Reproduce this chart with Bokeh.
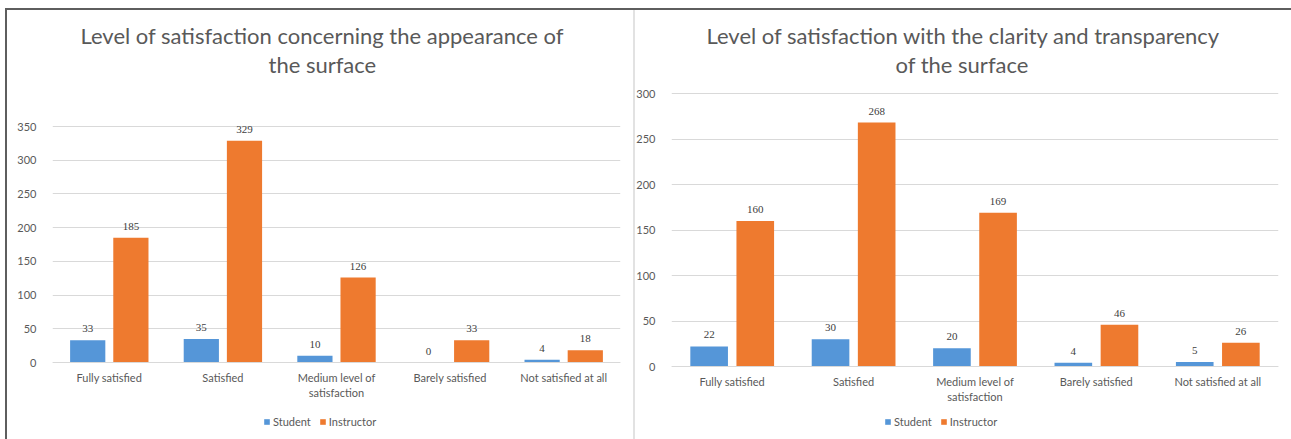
from bokeh.plotting import figure
from bokeh.models import (ColumnDataSource, FactorRange, FixedTicker, Legend,
                          LegendItem, LabelSet, Range1d, Title)
from bokeh.transform import dodge
from bokeh.layouts import row
from bokeh.embed import file_html
from bokeh.resources import INLINE

# Survey answers
categories = ["Fully satisfied", "Satisfied", "Medium level of\nsatisfaction",
              "Barely satisfied", "Not satisfied at all"]
series_names = ["Student", "Instructor"]

appearance_student = [33, 35, 10, 0, 4]
appearance_instructor = [185, 329, 126, 33, 18]
appearance_ticks = [0, 50, 100, 150, 200, 250, 300, 350]

clarity_student = [22, 30, 20, 4, 5]
clarity_instructor = [160, 268, 169, 46, 26]
clarity_ticks = [0, 50, 100, 150, 200, 250, 300]

FONT = "Lato"
TEXT = "#595959"
GRID = "#d9d9d9"
BLUE = "#5596d8"
ORANGE = "#ee7a2f"
EDGE = "#5e5e5e"

HEIGHT = 439
TOP = 77          # height of the heading band above the plotting area


def heading(p, text, offset):
    t = Title(text=text, align="left", offset=offset, standoff=0,
              text_font=FONT, text_font_size="22px", text_font_style="normal",
              text_color=TEXT)
    p.add_layout(t, "above")


def make_chart(title_lines, title_offsets, student, instructor, ticks, width,
               left, right, y_top_px, y_zero_px, legend_at):
    # the plotting area runs from TOP down to the bottom of the canvas; the value
    # axis is placed so that ticks[-1] sits at y_top_px and 0 at y_zero_px
    scale = (y_zero_px - y_top_px) / ticks[-1]
    y_start = -(HEIGHT - y_zero_px) / scale
    y_end = ticks[-1] + (y_top_px - TOP) / scale

    src = ColumnDataSource(dict(cat=categories, student=student,
                                instructor=instructor,
                                s_lbl=[str(v) for v in student],
                                i_lbl=[str(v) for v in instructor]))
    p = figure(width=width, height=HEIGHT,
               x_range=FactorRange(*categories, range_padding=0),
               y_range=Range1d(y_start, y_end), output_backend="svg",
               toolbar_location=None, min_border_left=left,
               min_border_right=right, min_border_top=TOP,
               min_border_bottom=0)
    p.border_fill_color = None
    p.background_fill_color = "white"
    p.title.text = ""

    # heading lines: the first one added sits nearest the plotting area
    for line, off in reversed(list(zip(title_lines, title_offsets))):
        heading(p, line, off)

    s = p.vbar(x=dodge("cat", -0.19, range=p.x_range), top="student", width=0.31,
               source=src, fill_color=BLUE, line_color=None)
    i = p.vbar(x=dodge("cat", 0.19, range=p.x_range), top="instructor", width=0.31,
               source=src, fill_color=ORANGE, line_color=None)

    for col, off in (("student", -0.19), ("instructor", 0.19)):
        p.add_layout(LabelSet(x=dodge("cat", off, range=p.x_range), y=col,
                              text=col[0] + "_lbl", source=src, y_offset=8,
                              text_align="center", text_baseline="bottom",
                              text_font=FONT, text_font_size="11px",
                              text_color="#404040"))

    p.outline_line_color = None
    p.xgrid.grid_line_color = None
    p.ygrid.grid_line_color = GRID
    p.ygrid.ticker = FixedTicker(ticks=ticks)

    p.yaxis.ticker = FixedTicker(ticks=ticks)
    p.yaxis.axis_line_color = None
    p.yaxis.major_tick_line_color = None
    p.yaxis.minor_tick_line_color = None
    p.yaxis.major_label_text_font = FONT
    p.yaxis.major_label_text_font_size = "11px"
    p.yaxis.major_label_text_color = TEXT
    p.yaxis.major_label_standoff = 10

    # category axis sits on the zero line
    p.xaxis.fixed_location = 0
    p.xaxis.axis_line_color = GRID
    p.xaxis.major_tick_line_color = None
    p.xaxis.major_label_text_font = FONT
    p.xaxis.major_label_text_font_size = "11px"
    p.xaxis.major_label_text_color = TEXT
    p.xaxis.major_label_standoff = 2

    legend = Legend(items=[LegendItem(label=series_names[0], renderers=[s]),
                           LegendItem(label=series_names[1], renderers=[i])],
                    orientation="horizontal", location=legend_at,
                    label_text_font=FONT, label_text_font_size="11px",
                    label_text_color=TEXT, glyph_width=7, glyph_height=7,
                    spacing=8, label_standoff=3, border_line_color=None,
                    background_fill_alpha=0, margin=0, padding=2,
                    label_height=12)
    p.add_layout(legend)
    return p


p1 = make_chart(["Level of satisfaction concerning the appearance of", "the surface"],
                [28, 216], appearance_student, appearance_instructor,
                appearance_ticks, width=633, left=52, right=13,
                y_top_px=126, y_zero_px=362, legend_at=(211, 11))
p2 = make_chart(["Level of satisfaction with the clarity and transparency", "of the surface"],
                [35, 224], clarity_student, clarity_instructor, clarity_ticks,
                width=658, left=38, right=13, y_top_px=93, y_zero_px=366,
                legend_at=(213, 11))

# panel frame: dark rule along the top and left, light divider between charts
frame_css = ("linear-gradient(%s,%s) 5px 8px / 1286px 2px no-repeat, "
             "linear-gradient(%s,%s) 5px 8px / 2px 431px no-repeat, "
             "linear-gradient(#e2e2e2,#e2e2e2) 633px 10px / 2px 429px no-repeat, "
             "#ffffff") % (EDGE, EDGE, EDGE, EDGE)
page = row(p1, p2, styles={"background": frame_css})
open("out.html", "w").write(file_html(page, INLINE))
